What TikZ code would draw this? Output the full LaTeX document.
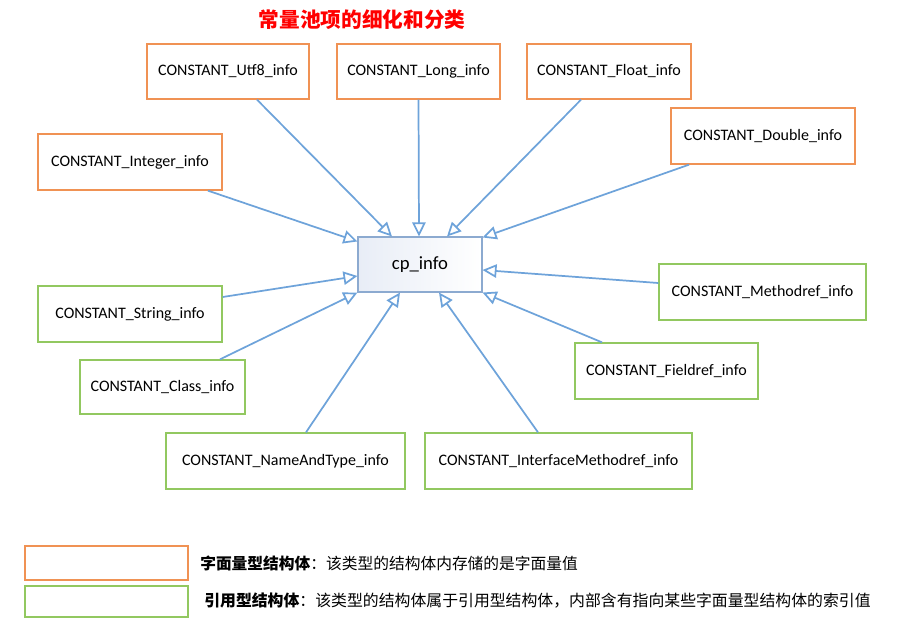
\documentclass[tikz,border=0pt]{standalone}
\usepackage{fontspec}
\setmainfont{Carlito}
\newfontfamily\cjk{Noto Sans CJK SC}
\usepackage{xcolor}
\usetikzlibrary{arrows.meta}
\usetikzlibrary{calc}
\usetikzlibrary{positioning}

\definecolor{litorange}{RGB}{240,146,84}
\definecolor{refgreen}{RGB}{146,200,96}
\definecolor{arrowblue}{RGB}{110,163,218}
\definecolor{cpborder}{RGB}{140,170,208}
\definecolor{cpfill}{RGB}{232,237,246}
\definecolor{titlered}{RGB}{255,0,0}

\tikzset{
  infobox/.style={inner sep=0pt, line width=1pt, fill=white,
    font=\fontsize{12}{14}\selectfont},
  litbox/.style={infobox, draw=litorange},
  refbox/.style={infobox, draw=refgreen},
  link/.style={draw=arrowblue, line width=1.3pt, ->},
}

\begin{document}
\begin{tikzpicture}[x=0.75pt, y=-0.75pt, >={Triangle[open,length=10.5pt,width=10pt]}]
\useasboundingbox (0,0) rectangle (900,626);

%title
\node (title) at (362,20) {\cjk\fontsize{15.5}{18}\selectfont\bfseries\color{titlered}常量池项的细化和分类};

%centre
\node[draw=cpborder, line width=0.8pt, left color=cpfill, right color=white,
  minimum width=93pt, minimum height=41.25pt, inner sep=0pt,
  font=\fontsize{14}{16}\selectfont] (cp) at (420,264.5) {cp\_info};

%literal structures
\foreach \name/\x/\y/\w/\h/\txt in {
    utf8/228/71.5/162/55/CONSTANT\_Utf8\_info,
    long/418.5/71.5/163/55/CONSTANT\_Long\_info,
    float/609/71.5/164/55/CONSTANT\_Float\_info,
    double/763/136/184/56/CONSTANT\_Double\_info,
    integer/130/162/184/56/CONSTANT\_Integer\_info} {
  \node[litbox, minimum width=\w*0.75pt, minimum height=\h*0.75pt] (\name) at (\x,\y) {\txt};
}

%reference structures
\foreach \name/\x/\y/\w/\h/\txt in {
    methodref/762.5/292/207/56/CONSTANT\_Methodref\_info,
    string/130/314/184/56/CONSTANT\_String\_info,
    fieldref/666.5/371/183/56/CONSTANT\_Fieldref\_info,
    class/162.5/387/165/54/CONSTANT\_Class\_info,
    nat/285.5/461/239/56/CONSTANT\_NameAndType\_info,
    imr/558.5/461/267/56/CONSTANT\_InterfaceMethodref\_info} {
  \node[refbox, minimum width=\w*0.75pt, minimum height=\h*0.75pt] (\name) at (\x,\y) {\txt};
}

%arrows
\draw[link] ($(utf8.south)+(29,0)$) -- ($(cp.north)+(-28,0)$);
\draw[link] (long.south) -- ($(cp.north)+(-1,0)$);
\draw[link] ($(float.south)+(-28,0)$) -- ($(cp.north)+(27,0)$);
\draw[link] ($(double.south)+(-74,0)$) -- ($(cp.north east)+(0,1)$);
\draw[link] ($(integer.south)+(78,0)$) -- ($(cp.north west)+(0,5)$);
\draw[link] ($(string.east)+(0,-17)$) -- ($(cp.west)+(0,11.5)$);
\draw[link] ($(class.north)+(57.5,0)$) -- (cp.south west);
\draw[link] ($(nat.north)+(20.5,0)$) -- ($(cp.south)+(-20,0)$);
\draw[link] ($(imr.north)+(-20.5,0)$) -- ($(cp.south)+(19,0)$);
\draw[link] ($(fieldref.north)+(-64.5,0)$) -- (cp.south east);
\draw[link] ($(methodref.west)+(0,-9)$) -- ($(cp.east)+(0,5.5)$);

%legend
\node[litbox, minimum width=122.25pt, minimum height=25.5pt] (leg1) at (106.5,563) {};
\node[refbox, minimum width=122.25pt, minimum height=23.25pt] (leg2) at (106.5,601.5) {};
\node[anchor=west, inner sep=0pt] (leg1txt) at (200,563)
  {\cjk\fontsize{11.8}{14}\selectfont\textbf{字面量型结构体}：该类型的结构体内存储的是字面量值};
\node[anchor=west, inner sep=0pt] (leg2txt) at (204,601)
  {\cjk\fontsize{11.9}{14}\selectfont\textbf{引用型结构体}：该类型的结构体属于引用型结构体，内部含有指向某些字面量型结构体的索引值};
\end{tikzpicture}
\end{document}
